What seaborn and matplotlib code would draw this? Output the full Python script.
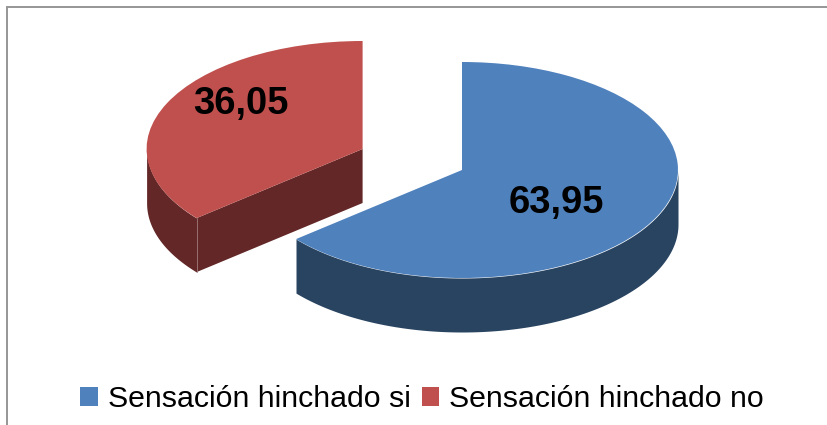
import numpy as np
import matplotlib
matplotlib.use("Agg")
import matplotlib.pyplot as plt
from matplotlib.lines import Line2D
import seaborn as sns

# Values
labels = ["Sensación hinchado si", "Sensación hinchado no"]
values = [63.95, 36.05]
value_text = ["63,95", "36,05"]

top_colors = ["#4F81BD", "#C0504D"]
side_colors = ["#294461", "#622726"]

sns.set_theme(style="white")
plt.rcParams["font.family"] = ["Liberation Sans", "DejaVu Sans"]

W, H = 827, 425
RX, RY = 216, 108      # pixels per data unit, the squash gives the 3D look
CX, CY = 462, 170      # pixel position of the pie centre
DEPTH = 0.5


def px(x, y):
    return (x - CX) / RX, (CY - y) / RY


fig = plt.figure(figsize=(W / 100, H / 100), dpi=100)
ax = fig.add_axes([0, 0, 1, 1])

wedges, _ = ax.pie(values, colors=top_colors, startangle=90, counterclock=False,
                   wedgeprops={"linewidth": 0, "zorder": 3})
wedges[1].set_center(px(362.6, 149))   # pulled out slice
ax.set_aspect("auto")
ax.set_xlim(px(0, 0)[0], px(W, 0)[0])
ax.set_ylim(px(0, H)[1], px(0, 0)[1])
ax.axis("off")

# side walls, only the part of the rim that faces the viewer
for w, col in zip(wedges, side_colors):
    cx, cy = w.center
    t1, t2 = w.theta1 % 360, w.theta2 % 360
    if t2 <= t1:
        t2 += 360
    segs = [(max(t1, 180), min(t2, 360)), (max(t1 + 360, 180), min(t2 + 360, 360)),
            (max(t1 - 360, 180), min(t2 - 360, 360))]
    for a, b in segs:
        if b <= a:
            continue
        th = np.radians(np.linspace(a, b, 200))
        xs = cx + np.cos(th)
        ys = cy + np.sin(th)
        ax.fill_between(xs, ys, ys - DEPTH, color=col, linewidth=0, zorder=2)

# flat cut of the pulled out slice
red = wedges[1]
cx, cy = red.center
tip = np.radians(red.theta2)
tip_x, tip_y = cx + np.cos(tip), cy + np.sin(tip)
ax.fill([cx, tip_x, tip_x, cx], [cy, tip_y, tip_y - DEPTH, cy - DEPTH],
        color=side_colors[1], linewidth=0, zorder=2)
ax.plot([tip_x, tip_x], [tip_y, tip_y - DEPTH], color="#A07C7C", lw=0.6, zorder=2.5)

# value labels
ax.text(*px(556.5, 203), value_text[0], ha="center", va="center", fontsize=27.5,
        fontweight="bold", color="black", zorder=5)
ax.text(*px(240.5, 104), value_text[1], ha="center", va="center", fontsize=27.5,
        fontweight="bold", color="black", zorder=5)

leg = ax.legend(wedges, labels, loc="center", bbox_to_anchor=(422 / W, 1 - 399 / H),
                ncol=2, frameon=False, fontsize=21.8, handlelength=0.58, handleheight=0.58,
                handletextpad=0.33, columnspacing=0.36, labelcolor="black",
                borderpad=0, borderaxespad=0)

# chart frame, only top and left edges are in the picture
frame = Line2D([6.5 / W, 6.5 / W, 1], [0, 1 - 6.5 / H, 1 - 6.5 / H], color="#969696",
               linewidth=1.4, transform=fig.transFigure, solid_joinstyle="miter")
fig.add_artist(frame)

fig.savefig("out.png", dpi=100)
